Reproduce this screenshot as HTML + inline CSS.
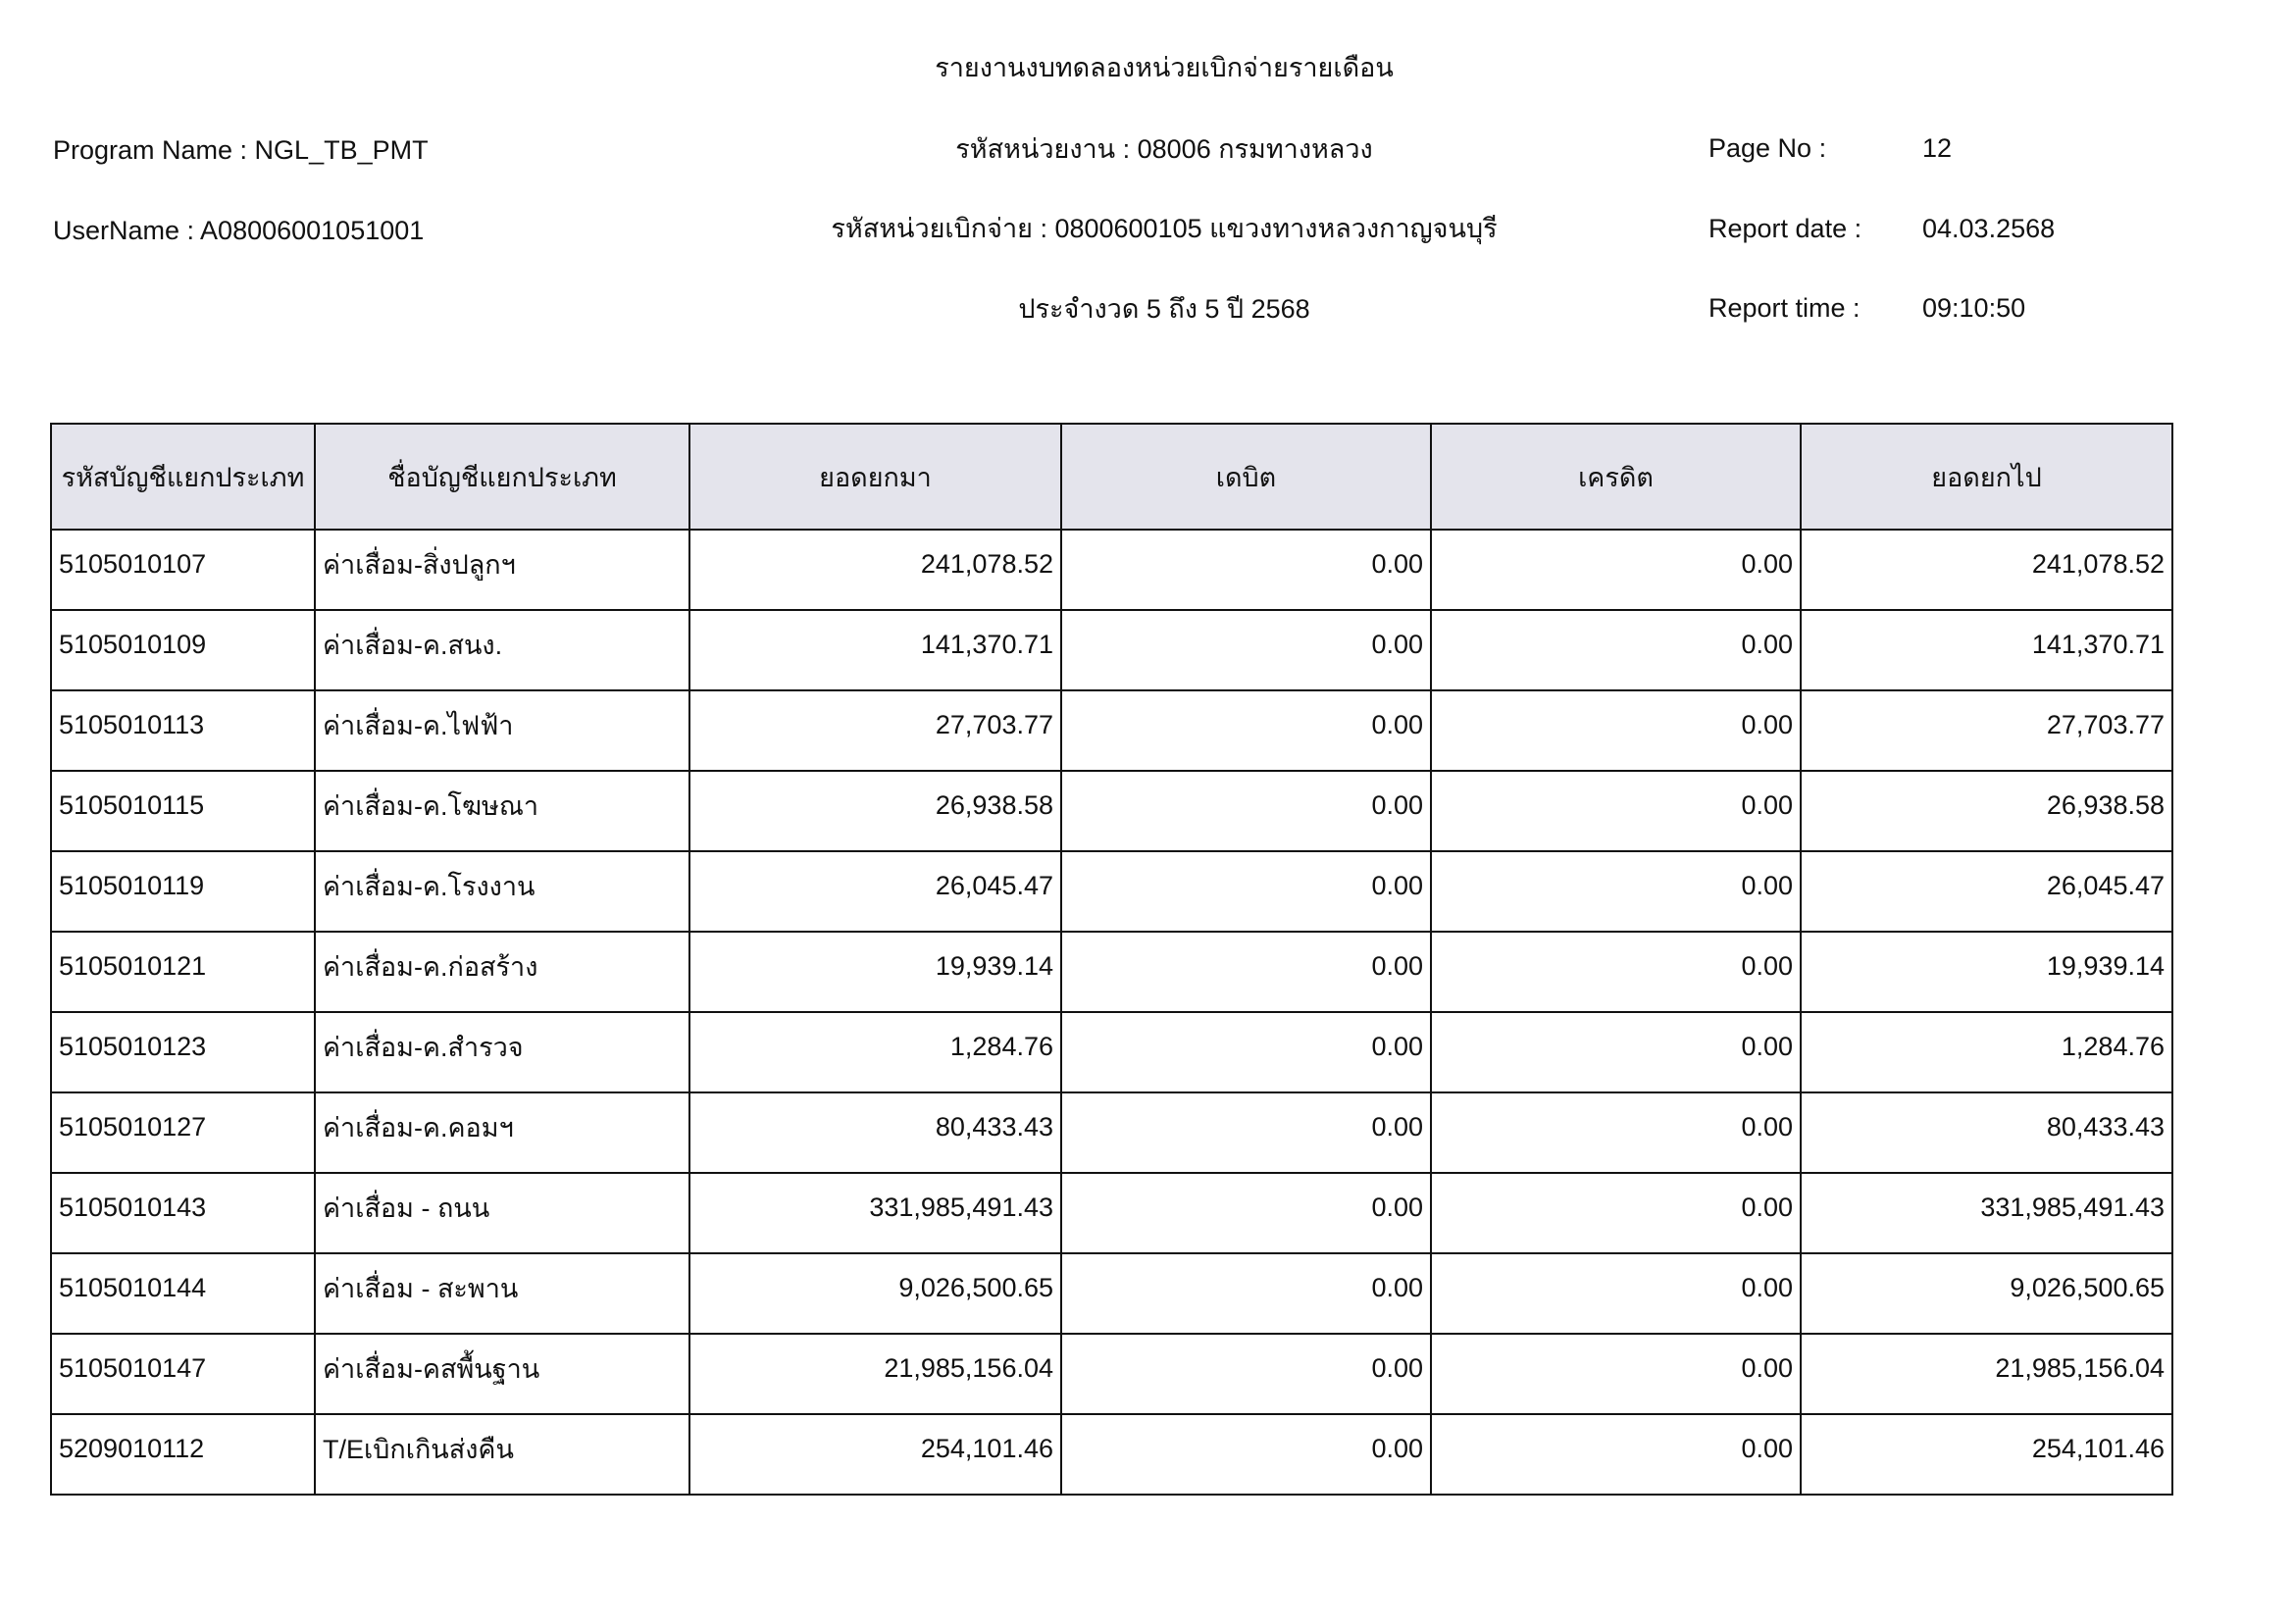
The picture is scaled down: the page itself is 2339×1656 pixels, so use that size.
<!DOCTYPE html>
<html><head><meta charset="utf-8">
<style>
body{margin:0;width:2339px;height:1656px;background:#fff;position:relative;font-family:"Liberation Sans","DejaVu Sans",sans-serif;color:#111;overflow:hidden}
.t{position:absolute;font-size:27px;white-space:nowrap;line-height:1}
.c{transform:translateX(-50%)}
table{position:absolute;left:51px;top:431px;border-collapse:collapse;table-layout:fixed;width:2163px}
td,th{border:2px solid #111;font-size:27px;font-weight:normal;padding:0 7px 12px 7px;height:68px;white-space:nowrap;overflow:hidden}
th{background:#e4e4ec;height:106px;padding:0;text-align:center;vertical-align:middle}
td{vertical-align:middle}
td.r{text-align:right}
</style></head><body>
<div class="t c" style="left:1187px;top:56px">รายงานงบทดลองหน่วยเบิกจ่ายรายเดือน</div>
<div class="t" style="left:54px;top:140px">Program Name : NGL_TB_PMT</div>
<div class="t c" style="left:1187px;top:139px">รหัสหน่วยงาน : 08006 กรมทางหลวง</div>
<div class="t" style="left:1742px;top:138px">Page No :</div>
<div class="t" style="left:1960px;top:138px">12</div>
<div class="t" style="left:54px;top:222px">UserName : A08006001051001</div>
<div class="t c" style="left:1187px;top:220px">รหัสหน่วยเบิกจ่าย : 0800600105 แขวงทางหลวงกาญจนบุรี</div>
<div class="t" style="left:1742px;top:220px">Report date :</div>
<div class="t" style="left:1960px;top:220px">04.03.2568</div>
<div class="t c" style="left:1187px;top:302px">ประจำงวด 5 ถึง 5 ปี 2568</div>
<div class="t" style="left:1742px;top:301px">Report time :</div>
<div class="t" style="left:1960px;top:301px">09:10:50</div>
<table>
<colgroup><col style="width:269px"><col style="width:382px"><col style="width:379px"><col style="width:377px"><col style="width:377px"><col style="width:379px"></colgroup>
<tr><th>รหัสบัญชีแยกประเภท</th><th>ชื่อบัญชีแยกประเภท</th><th>ยอดยกมา</th><th>เดบิต</th><th>เครดิต</th><th>ยอดยกไป</th></tr>
<tr><td>5105010107</td><td>ค่าเสื่อม-สิ่งปลูกฯ</td><td class="r">241,078.52</td><td class="r">0.00</td><td class="r">0.00</td><td class="r">241,078.52</td></tr>
<tr><td>5105010109</td><td>ค่าเสื่อม-ค.สนง.</td><td class="r">141,370.71</td><td class="r">0.00</td><td class="r">0.00</td><td class="r">141,370.71</td></tr>
<tr><td>5105010113</td><td>ค่าเสื่อม-ค.ไฟฟ้า</td><td class="r">27,703.77</td><td class="r">0.00</td><td class="r">0.00</td><td class="r">27,703.77</td></tr>
<tr><td>5105010115</td><td>ค่าเสื่อม-ค.โฆษณา</td><td class="r">26,938.58</td><td class="r">0.00</td><td class="r">0.00</td><td class="r">26,938.58</td></tr>
<tr><td>5105010119</td><td>ค่าเสื่อม-ค.โรงงาน</td><td class="r">26,045.47</td><td class="r">0.00</td><td class="r">0.00</td><td class="r">26,045.47</td></tr>
<tr><td>5105010121</td><td>ค่าเสื่อม-ค.ก่อสร้าง</td><td class="r">19,939.14</td><td class="r">0.00</td><td class="r">0.00</td><td class="r">19,939.14</td></tr>
<tr><td>5105010123</td><td>ค่าเสื่อม-ค.สำรวจ</td><td class="r">1,284.76</td><td class="r">0.00</td><td class="r">0.00</td><td class="r">1,284.76</td></tr>
<tr><td>5105010127</td><td>ค่าเสื่อม-ค.คอมฯ</td><td class="r">80,433.43</td><td class="r">0.00</td><td class="r">0.00</td><td class="r">80,433.43</td></tr>
<tr><td>5105010143</td><td>ค่าเสื่อม - ถนน</td><td class="r">331,985,491.43</td><td class="r">0.00</td><td class="r">0.00</td><td class="r">331,985,491.43</td></tr>
<tr><td>5105010144</td><td>ค่าเสื่อม - สะพาน</td><td class="r">9,026,500.65</td><td class="r">0.00</td><td class="r">0.00</td><td class="r">9,026,500.65</td></tr>
<tr><td>5105010147</td><td>ค่าเสื่อม-คสพื้นฐาน</td><td class="r">21,985,156.04</td><td class="r">0.00</td><td class="r">0.00</td><td class="r">21,985,156.04</td></tr>
<tr><td>5209010112</td><td>T/Eเบิกเกินส่งคืน</td><td class="r">254,101.46</td><td class="r">0.00</td><td class="r">0.00</td><td class="r">254,101.46</td></tr>
</table>
</body></html>
